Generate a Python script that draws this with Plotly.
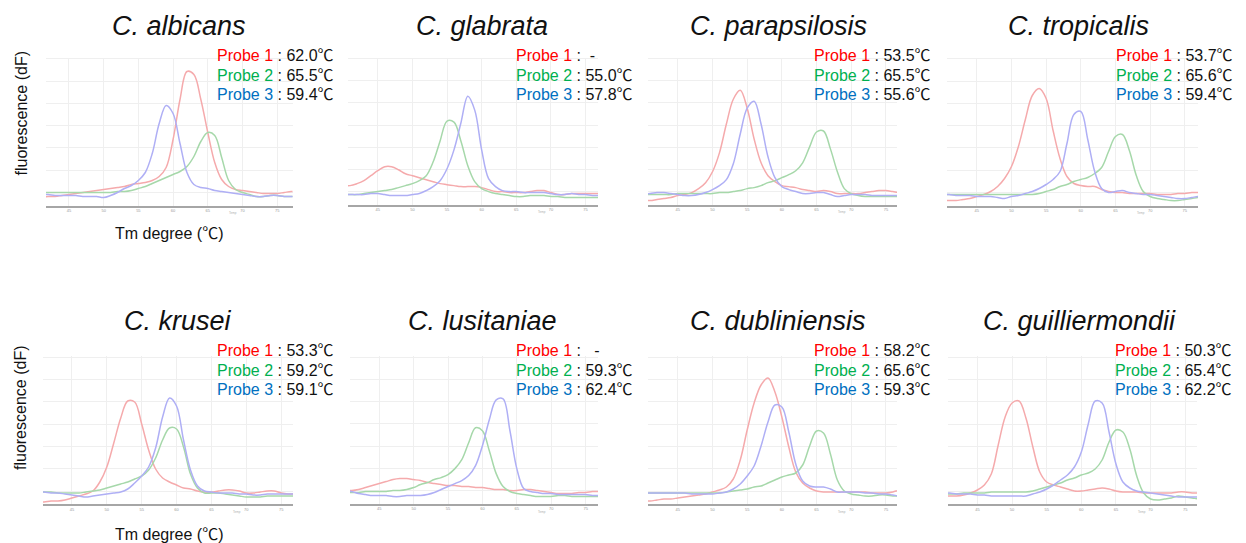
import plotly.graph_objects as go

# ---------------- data ----------------
temps = [40, 41, 42, 43, 44, 45, 46, 47, 48, 49, 50, 51, 52, 53, 54, 55, 56, 57, 58, 59,
         60, 61, 62, 63, 64, 65, 66, 67, 68, 69, 70, 71, 72, 73, 74, 75, 76, 77, 78]

tick_vals = [45, 50, 55, 60, 65, 70, 75]
tick_text = ["45", "50", "55", "60", "65", "70", "75"]

species = ["C. albicans", "C. glabrata", "C. parapsilosis", "C. tropicalis",
           "C. krusei", "C. lusitaniae", "C. dubliniensis", "C. guilliermondii"]

probe1_tm = ["62.0℃", "-", "53.5℃", "53.7℃", "53.3℃", "-", "58.2℃", "50.3℃"]
probe2_tm = ["65.5℃", "55.0℃", "65.5℃", "65.6℃", "59.2℃", "59.3℃", "65.6℃", "65.4℃"]
probe3_tm = ["59.4℃", "57.8℃", "55.6℃", "59.4℃", "59.1℃", "62.4℃", "59.3℃", "62.2℃"]

# fluorescence (dF), arbitrary units
albicans_p1 = [8, 8, 9, 9, 10, 11, 12, 13, 14, 15, 16, 17, 18, 19, 21, 22, 23, 25, 29, 38,
               66, 106, 134, 131, 106, 73, 43, 26, 19, 16, 15, 14, 13, 12, 12, 12, 13, 14, 14]
albicans_p2 = [13, 13, 13, 13, 13, 13, 13, 13, 13, 13, 13, 13, 14, 14, 15, 17, 19, 22, 25, 28,
               31, 34, 39, 49, 64, 73, 70, 48, 25, 16, 13, 11, 9, 9, 10, 10, 9, 9, 9]
albicans_p3 = [11, 11, 11, 10, 10, 10, 10, 9, 9, 9, 8, 10, 13, 17, 20, 25, 33, 52, 82, 100,
               92, 62, 33, 21, 18, 17, 15, 14, 13, 12, 11, 10, 9, 9, 10, 10, 9, 9, 9]

glabrata_p1 = [19, 19, 21, 24, 29, 34, 38, 38, 35, 31, 29, 27, 25, 23, 21, 20, 19, 18, 18, 18,
               17, 15, 13, 13, 12, 12, 12, 13, 14, 14, 12, 10, 10, 11, 11, 11, 11, 11, 11]
glabrata_p2 = [10, 10, 10, 11, 12, 13, 14, 15, 17, 19, 21, 24, 29, 43, 64, 84, 83, 64, 39, 23,
               16, 13, 11, 10, 9, 8, 8, 9, 9, 9, 8, 8, 7, 7, 7, 7, 7, 7, 7]
glabrata_p3 = [10, 10, 10, 10, 11, 11, 10, 9, 9, 9, 10, 11, 14, 18, 24, 36, 55, 82, 109, 95,
               55, 26, 18, 14, 13, 13, 12, 12, 12, 12, 11, 10, 10, 11, 10, 10, 9, 9, 9]

parapsilosis_p1 = [4, 4, 5, 6, 7, 9, 10, 12, 16, 22, 33, 52, 81, 106, 115, 97, 66, 42, 29, 23,
                   19, 18, 17, 15, 14, 13, 14, 13, 11, 11, 11, 11, 12, 13, 14, 14, 13, 12, 12]
parapsilosis_p2 = [10, 10, 10, 10, 10, 11, 11, 11, 11, 11, 11, 12, 12, 13, 14, 16, 17, 19, 22, 24,
                   27, 30, 34, 42, 58, 73, 74, 56, 33, 16, 11, 9, 8, 8, 8, 8, 8, 8, 8]
parapsilosis_p3 = [11, 11, 12, 12, 11, 10, 9, 9, 10, 12, 15, 19, 25, 41, 71, 97, 104, 81, 48, 27,
                   18, 15, 13, 11, 11, 12, 12, 10, 8, 9, 10, 10, 10, 9, 9, 9, 9, 9, 9]

tropicalis_p1 = [5, 5, 5, 6, 7, 9, 11, 14, 19, 27, 39, 59, 86, 110, 117, 107, 75, 47, 29, 22,
                 20, 19, 19, 16, 14, 13, 13, 12, 12, 12, 12, 11, 11, 11, 12, 12, 13, 13, 13]
tropicalis_p2 = [11, 11, 11, 11, 11, 11, 11, 11, 11, 11, 11, 11, 11, 11, 12, 14, 16, 19, 21, 24,
                 26, 28, 32, 38, 54, 69, 71, 55, 30, 14, 9, 7, 6, 5, 5, 6, 7, 8, 8]
tropicalis_p3 = [11, 11, 10, 10, 10, 9, 9, 9, 8, 7, 9, 10, 12, 14, 17, 21, 26, 34, 62, 91,
                 94, 66, 34, 17, 13, 14, 15, 13, 12, 11, 11, 10, 9, 8, 7, 7, 8, 9, 9]

krusei_p1 = [2, 2, 3, 3, 4, 6, 8, 10, 13, 22, 37, 61, 86, 103, 102, 80, 54, 35, 26, 22,
             19, 16, 15, 13, 12, 12, 13, 14, 14, 13, 11, 11, 12, 13, 13, 11, 10, 10, 10]
krusei_p2 = [12, 12, 12, 11, 11, 11, 11, 12, 13, 14, 16, 18, 20, 22, 25, 28, 34, 46, 64, 76,
             75, 57, 30, 16, 11, 11, 11, 10, 9, 8, 7, 7, 7, 8, 8, 8, 8, 8, 8]
krusei_p3 = [12, 12, 11, 11, 10, 9, 8, 7, 8, 9, 10, 11, 12, 15, 21, 28, 37, 56, 87, 106,
             98, 64, 34, 18, 13, 12, 11, 11, 11, 10, 10, 9, 9, 10, 10, 10, 10, 10, 10]

lusitaniae_p1 = [13, 13, 14, 16, 18, 20, 22, 24, 25, 25, 24, 23, 21, 20, 19, 18, 18, 17, 17, 16,
                 16, 15, 14, 14, 13, 13, 14, 14, 13, 12, 11, 10, 10, 10, 11, 11, 12, 12, 12]
lusitaniae_p2 = [11, 11, 11, 12, 12, 12, 12, 13, 13, 14, 16, 19, 21, 24, 26, 29, 35, 44, 61, 76,
                 73, 53, 30, 17, 12, 10, 9, 8, 7, 7, 7, 8, 8, 7, 7, 7, 7, 7, 7]
lusitaniae_p3 = [13, 12, 10, 9, 8, 8, 8, 7, 7, 8, 8, 8, 9, 11, 14, 17, 20, 23, 28, 38,
                 58, 84, 104, 105, 73, 35, 15, 12, 11, 10, 10, 9, 9, 9, 9, 9, 8, 8, 8]

dubliniensis_p1 = [3, 3, 4, 5, 5, 6, 7, 8, 9, 10, 12, 14, 17, 25, 44, 74, 101, 119, 126, 112,
                   87, 57, 32, 21, 16, 13, 12, 12, 12, 12, 12, 12, 12, 11, 11, 11, 12, 14, 14]
dubliniensis_p2 = [11, 11, 11, 11, 11, 11, 11, 11, 11, 11, 11, 11, 12, 13, 14, 15, 17, 18, 21, 24,
                   27, 29, 31, 39, 58, 73, 71, 50, 24, 13, 10, 9, 8, 8, 9, 9, 8, 8, 8]
dubliniensis_p3 = [11, 11, 11, 11, 11, 11, 11, 10, 10, 10, 10, 11, 12, 15, 20, 28, 38, 58, 82, 99,
                   97, 72, 40, 23, 18, 17, 17, 15, 12, 12, 12, 12, 11, 11, 10, 10, 9, 8, 8]

guilliermondii_p1 = [8, 8, 8, 9, 11, 14, 19, 30, 59, 87, 101, 103, 86, 57, 32, 22, 19, 17, 15, 13,
                     13, 14, 15, 16, 15, 13, 12, 12, 12, 11, 11, 11, 11, 11, 12, 12, 11, 11, 11]
guilliermondii_p2 = [10, 10, 10, 11, 11, 11, 11, 12, 12, 12, 12, 12, 12, 13, 15, 17, 19, 21, 24, 26,
                     29, 31, 35, 44, 62, 74, 72, 55, 28, 11, 5, 4, 5, 6, 8, 7, 6, 5, 5]
guilliermondii_p3 = [11, 11, 10, 10, 10, 9, 9, 8, 8, 8, 8, 8, 8, 10, 12, 15, 19, 24, 29, 37,
                     52, 80, 103, 101, 72, 40, 22, 16, 13, 12, 11, 10, 9, 8, 7, 7, 7, 7, 7]

panel_curves = [
    (albicans_p1, albicans_p2, albicans_p3),
    (glabrata_p1, glabrata_p2, glabrata_p3),
    (parapsilosis_p1, parapsilosis_p2, parapsilosis_p3),
    (tropicalis_p1, tropicalis_p2, tropicalis_p3),
    (krusei_p1, krusei_p2, krusei_p3),
    (lusitaniae_p1, lusitaniae_p2, lusitaniae_p3),
    (dubliniensis_p1, dubliniensis_p2, dubliniensis_p3),
    (guilliermondii_p1, guilliermondii_p2, guilliermondii_p3),
]

# ---------------- layout / style ----------------
PAGE_W, PAGE_H = 1246, 543
OFF = 8                      # default page margin around the plot div
W, H = PAGE_W - OFF, PAGE_H - OFF
FONT = "Arial, Liberation Sans, Noto Sans CJK JP, sans-serif"
curve_colors = ["#f5aaac", "#a6d8aa", "#afaff5"]
label_colors = ["#ff0000", "#00b050", "#0070c0"]

# panel plot areas in page pixels: left, right, top, bottom
panel_px = [
    (46, 292.5, 57.5, 205.5), (348, 598, 57.5, 204.5), (648, 897, 57.5, 204.5), (947, 1198, 57.5, 205.5),
    (43, 293, 356, 504), (350, 598, 356, 503.5), (648, 897, 356, 504), (948, 1197, 356, 504),
]
x_ranges = [
    [41.7, 77.2], [40.7, 76.8], [40.7, 76.6], [40.7, 76.9],
    [40.85, 76.7], [40.75, 76.8], [40.7, 76.6], [40.75, 76.7],
]
title_pos = [(178.5, 26), (481.5, 26), (778.5, 26), (1078, 26),
             (177.5, 321), (482.5, 321), (778.5, 321), (1079, 321)]
probe_left = [215, 514, 812, 1114, 215, 514, 812, 1113]
probe_rows = [(56, 75.3, 94.7)] * 4 + [(350.7, 370, 389.3)] * 4


def px(x):
    return (x - OFF) / W


def py(y):
    return 1 - (y - OFF) / H


fig = go.Figure()
annotations = []
layout_axes = {}

for i in range(8):
    n = i + 1
    xa, ya = f"x{n}", f"y{n}"
    l, r, t, b = panel_px[i]
    for k in range(3):
        fig.add_trace(go.Scatter(
            x=temps, y=panel_curves[i][k], mode="lines",
            line=dict(color=curve_colors[k], width=1.5, shape="spline", smoothing=1.0),
            xaxis=xa, yaxis=ya, hoverinfo="skip", showlegend=False,
        ))
    layout_axes[f"xaxis{n}"] = dict(
        domain=[px(l), px(r)], range=x_ranges[i], anchor=ya,
        tickvals=tick_vals, ticktext=tick_text, ticks="",
        tickfont=dict(size=4, color="#9a9a9a", family=FONT),
        showgrid=True, gridcolor="#efefef", gridwidth=1,
        showline=True, linecolor="#a6a6a6", linewidth=2,
        zeroline=False, fixedrange=True,
    )
    layout_axes[f"yaxis{n}"] = dict(
        domain=[py(b), py(t)], range=[0, 148], anchor=xa,
        showticklabels=False, ticks="", tick0=13, dtick=22.3,
        showgrid=True, gridcolor="#efefef", gridwidth=1,
        showline=False, zeroline=False, fixedrange=True,
    )
    # species title
    tx, ty = title_pos[i]
    annotations.append(dict(
        text=f"<i>{species[i]}</i>", x=px(tx), y=py(ty), xref="paper", yref="paper",
        xanchor="center", yanchor="middle", showarrow=False,
        font=dict(size=27, color="#111111", family=FONT),
    ))
    # probe labels
    tms = [probe1_tm[i], probe2_tm[i], probe3_tm[i]]
    for k in range(3):
        tm = tms[k]
        if tm == "-":
            spaces = "&nbsp;&nbsp;" if i == 1 else "&nbsp;&nbsp;&nbsp;"
            txt = f'<span style="color:{label_colors[k]}">Probe {k + 1}</span> :{spaces}-'
        else:
            txt = f'<span style="color:{label_colors[k]}">Probe {k + 1}</span> : {tm}'
        annotations.append(dict(
            text=txt, x=px(probe_left[i]), y=py(probe_rows[i][k]), xref="paper", yref="paper",
            xanchor="left", yanchor="middle", showarrow=False,
            font=dict(size=16, color="#111111", family=FONT),
        ))
    # tiny axis caption below the x axis
    annotations.append(dict(
        text="Temp", x=68.7, y=py(b + 8), xref=xa, yref="paper",
        xanchor="center", yanchor="middle", showarrow=False,
        font=dict(size=3, color="#b0b0b0", family=FONT),
    ))

# axis titles (left column only)
for (ycen, xt_y, xt_x) in [(113, 234, 168.5), (407.5, 534.5, 168.5)]:
    annotations.append(dict(
        text="fluorescence (dF)", x=px(20.5), y=py(ycen), xref="paper", yref="paper",
        xanchor="center", yanchor="middle", textangle=-90, showarrow=False,
        font=dict(size=16, color="#111111", family=FONT),
    ))
    annotations.append(dict(
        text="Tm degree (℃)", x=px(xt_x), y=py(xt_y), xref="paper", yref="paper",
        xanchor="center", yanchor="middle", showarrow=False,
        font=dict(size=16, color="#111111", family=FONT),
    ))

fig.update_layout(
    width=W, height=H, margin=dict(l=0, r=0, t=0, b=0),
    paper_bgcolor="white", plot_bgcolor="white", showlegend=False,
    annotations=annotations, font=dict(family=FONT), **layout_axes,
)

fig.write_html("out.html", config={"displayModeBar": False})
